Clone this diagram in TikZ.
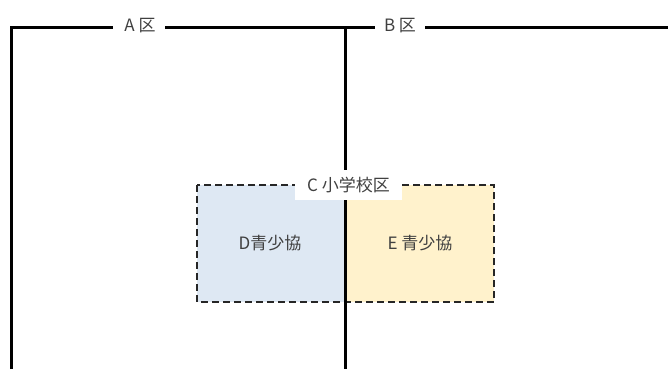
\documentclass[tikz,border=0pt]{standalone}
\usepackage{fontspec}
\setmainfont{Noto Sans CJK JP}
\begin{document}
\begin{tikzpicture}[x=1pt,y=-1pt,
  wall/.style={line width=3pt,black},
  lbl/.style={text=black!75,font=\fontsize{17}{19}\selectfont,inner sep=0pt},
  zone/.style={draw=black!85,line width=2pt,dash pattern=on 7pt off 4pt},
  tag/.style={fill=white,text=black!75,font=\fontsize{17}{19}\selectfont,inner sep=0pt,minimum width=107pt,minimum height=30pt}]
\useasboundingbox (0,0) rectangle (668,369);
% zones
\fill[fill={rgb,255:red,222;green,232;blue,243}] (197,185) rectangle (345,302);
\fill[fill={rgb,255:red,255;green,242;blue,204}] (345,185) rectangle (494,302);
\draw[zone] (197,185) rectangle (494,302);
% walls
\coordinate (tl) at (11,28);
\coordinate (bl) at (11,369);
\coordinate (tm) at (345,28);
\coordinate (bm) at (345,369);
\coordinate (tr) at (668,28);
\coordinate (a1) at (113,28);
\coordinate (a2) at (165,28);
\coordinate (b1) at (375,28);
\coordinate (b2) at (425,28);
\node[lbl] (A) at (140,26) {A 区};
\node[lbl] (B) at (400,26) {B 区};
\draw[wall] (bl) -- (tl) -- (a1);
\draw[wall] (a2) -- (b1);
\draw[wall] (b2) -- (tr);
\draw[wall] (tm) -- (bm);
\node[tag] (C) at (348.5,185) {C 小学校区};
\node[lbl] (D) at (270,243) {D青少協};
\node[lbl] (E) at (420,243) {E 青少協};
\end{tikzpicture}
\end{document}
